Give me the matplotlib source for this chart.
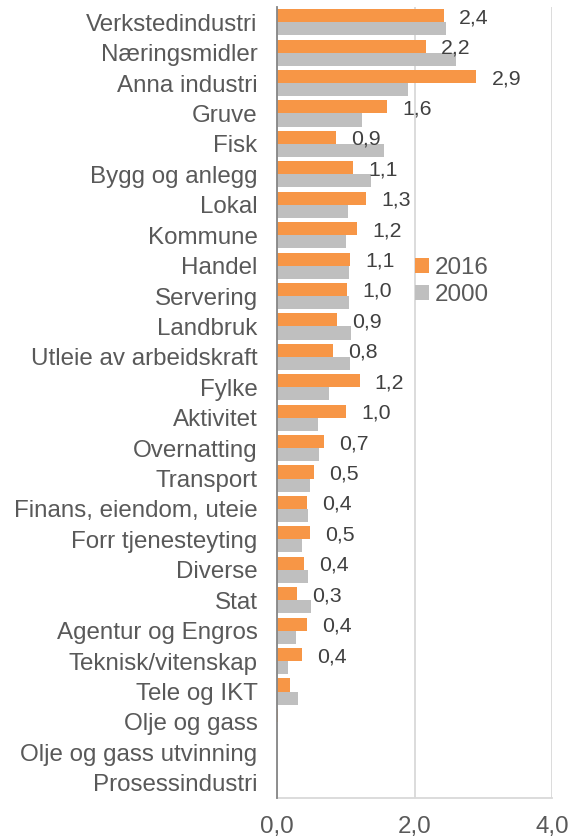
import matplotlib
matplotlib.use("Agg")
import matplotlib.pyplot as plt
import numpy as np

categories = ["Verkstedindustri", "Næringsmidler", "Anna industri", "Gruve", "Fisk",
              "Bygg og anlegg", "Lokal", "Kommune", "Handel", "Servering", "Landbruk",
              "Utleie av arbeidskraft", "Fylke", "Aktivitet", "Overnatting", "Transport",
              "Finans, eiendom, uteie", "Forr tjenesteyting", "Diverse", "Stat",
              "Agentur og Engros", "Teknisk/vitenskap", "Tele og IKT", "Olje og gass",
              "Olje og gass utvinning", "Prosessindustri"]
v2016 = [2.43, 2.17, 2.90, 1.60, 0.86, 1.11, 1.29, 1.16, 1.06, 1.02, 0.87, 0.81, 1.20,
         1.01, 0.69, 0.54, 0.43, 0.48, 0.39, 0.29, 0.44, 0.37, 0.19, 0.01, 0.0, 0.0]
v2000 = [2.46, 2.61, 1.90, 1.23, 1.55, 1.36, 1.03, 1.01, 1.04, 1.04, 1.07, 1.06, 0.75,
         0.59, 0.61, 0.48, 0.45, 0.37, 0.45, 0.50, 0.28, 0.16, 0.31, 0.0, 0.0, 0.0]
labels2016 = ["2,4", "2,2", "2,9", "1,6", "0,9", "1,1", "1,3", "1,2", "1,1", "1,0", "0,9",
              "0,8", "1,2", "1,0", "0,7", "0,5", "0,4", "0,5", "0,4", "0,3", "0,4", "0,4",
              "", "", "", ""]
series_names = ["2016", "2000"]
xticks = [0, 2, 4]
xticklabels = ["0,0", "2,0", "4,0"]

ORANGE = "#F79646"
GRAY = "#BFBFBF"
TXT = "#595959"

plt.rcParams['font.family'] = ['Liberation Sans', 'DejaVu Sans']

fig = plt.figure(figsize=(5.78, 8.38), dpi=100)
ax = fig.add_axes([277/578, 1 - 798/838, 275/578, 791/838])

y = np.arange(len(categories))
h = 0.43
ax.barh(y - h/2, v2016, height=h, color=ORANGE, label=series_names[0], zorder=3)
ax.barh(y + h/2, v2000, height=h, color=GRAY, label=series_names[1], zorder=3)

for yi, v, lab in zip(y, v2016, labels2016):
    if lab:
        ax.annotate(lab, (v, yi - h/2), xytext=(30, -2), textcoords='offset pixels',
                    ha='center', va='center', fontsize=15.3, color="#404040", zorder=4)

ax.set_ylim(len(categories) - 0.5, -0.5)
ax.set_xlim(0, 4)
ax.set_yticks(y)
ax.set_yticklabels(categories, fontsize=17.4, color=TXT)
ax.set_xticks(xticks)
ax.set_xticklabels(xticklabels, fontsize=17.4, color=TXT)
ax.tick_params(axis='y', length=0, pad=14)
ax.tick_params(axis='x', length=0, pad=13)

ax.grid(axis='x', color="#D9D9D9", linewidth=1.3, zorder=0)
for s in ['top', 'right']:
    ax.spines[s].set_visible(False)
ax.spines['left'].set_color("#868686")
ax.spines['left'].set_linewidth(1.3)
ax.spines['left'].set_zorder(5)
ax.spines['bottom'].set_color("#D9D9D9")
ax.spines['bottom'].set_linewidth(1.3)

leg = ax.legend(loc='upper left', bbox_to_anchor=(0.503, 0.684), frameon=False,
                fontsize=17.4, handlelength=0.55, handleheight=0.55, handletextpad=0.25,
                labelspacing=0.22, borderpad=0, borderaxespad=0)
for t in leg.get_texts():
    t.set_color(TXT)

fig.savefig("out.png", dpi=100)
